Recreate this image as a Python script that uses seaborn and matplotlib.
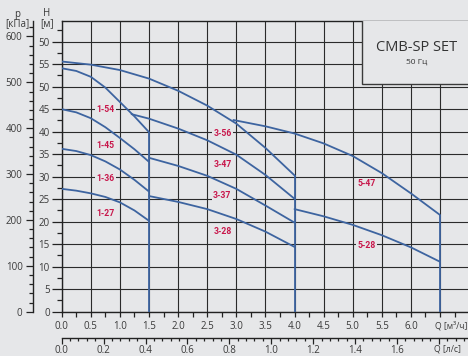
import numpy as np
import pandas as pd
import matplotlib
matplotlib.use("Agg")
import matplotlib.pyplot as plt
import matplotlib.transforms as mtransforms
from matplotlib.patches import Rectangle
from matplotlib.ticker import MultipleLocator, FixedLocator, FixedFormatter
import seaborn as sns

# ---------------- data (Q in m3/h, H in m) ----------------
q_1_54 = [0.0, 0.25, 0.5, 0.75, 1.0, 1.25, 1.5]
h_1_54 = [54.1, 53.5, 52.2, 49.8, 46.6, 43.4, 39.9]
q_1_45 = [0.0, 0.25, 0.5, 0.75, 1.0, 1.25, 1.5]
h_1_45 = [45.0, 44.3, 43.0, 41.0, 38.6, 36.1, 33.3]
q_1_36 = [0.0, 0.25, 0.5, 0.75, 1.0, 1.25, 1.5]
h_1_36 = [36.2, 35.7, 34.8, 33.4, 31.6, 29.3, 26.7]
q_1_27 = [0.0, 0.25, 0.5, 0.75, 1.0, 1.25, 1.5]
h_1_27 = [27.3, 26.9, 26.3, 25.5, 24.3, 22.5, 20.2]

q_3_56 = [0.0, 0.5, 1.0, 1.5, 2.0, 2.5, 3.0, 3.5, 4.0]
h_3_56 = [55.6, 54.9, 53.7, 51.8, 49.1, 45.8, 41.8, 36.4, 30.3]
q_3_47 = [1.2, 1.5, 2.0, 2.5, 3.0, 3.5, 4.0]
h_3_47 = [43.9, 42.9, 40.7, 38.1, 34.9, 30.4, 25.1]
q_3_37 = [1.5, 2.0, 2.5, 3.0, 3.5, 4.0]
h_3_37 = [34.2, 32.4, 30.2, 27.3, 23.6, 19.8]
q_3_28 = [1.5, 2.0, 2.5, 3.0, 3.5, 4.0]
h_3_28 = [25.7, 24.4, 22.8, 20.6, 17.8, 14.4]

q_5_47 = [2.95, 3.5, 4.0, 4.5, 5.0, 5.5, 6.0, 6.5]
h_5_47 = [42.6, 41.2, 39.6, 37.4, 34.6, 30.8, 26.3, 21.5]
q_5_28 = [4.0, 4.5, 5.0, 5.5, 6.0, 6.5]
h_5_28 = [22.8, 21.2, 19.3, 17.0, 14.3, 11.1]

pump_names = ["1-54", "1-45", "1-36", "1-27", "3-56", "3-47", "3-37", "3-28", "5-47", "5-28"]
pump_q = [q_1_54, q_1_45, q_1_36, q_1_27, q_3_56, q_3_47, q_3_37, q_3_28, q_5_47, q_5_28]
pump_h = [h_1_54, h_1_45, h_1_36, h_1_27, h_3_56, h_3_47, h_3_37, h_3_28, h_5_47, h_5_28]

label_q = [0.75, 0.75, 0.75, 0.75, 2.76, 2.76, 2.76, 2.76, 5.24, 5.24]
label_h = [44.9, 37.0, 29.6, 21.9, 39.7, 32.6, 25.9, 17.8, 28.4, 14.6]

q_ticks = [0.0, 0.5, 1.0, 1.5, 2.0, 2.5, 3.0, 3.5, 4.0, 4.5, 5.0, 5.5, 6.0, 6.5]
q_tick_labels = ["0.0", "0.5", "1.0", "1.5", "2.0", "2.5", "3.0", "3.5", "4.0",
                 "4.5", "5.0", "5.5", "6.0", "Q [м³/ч]"]
ls_ticks = [0.0, 0.2, 0.4, 0.6, 0.8, 1.0, 1.2, 1.4, 1.6, 1.8]
ls_tick_labels = ["0.0", "0.2", "0.4", "0.6", "0.8", "1.0", "1.2", "1.4", "1.6", "Q [л/с]"]
h_ticks = [0, 5, 10, 15, 20, 25, 30, 35, 40, 45, 50, 55, 60]
h_tick_labels = ["0", "5", "10", "15", "20", "25", "30", "35", "40", "45", "50", "55", "50"]
p_ticks = [0, 100, 200, 300, 400, 500, 600]

title_main = "CMB-SP SET"
title_sub = "50 Гц"

# ---------------- style ----------------
BG = "#e6e7e9"
CURVE = "#3d64a0"
LABEL = "#c8174b"
GRID = "#2b2b2b"
TXT = "#3a3a3a"

sns.set_style("white")
plt.rcParams["font.family"] = ["Open Sans", "DejaVu Sans"]

W, Hpx = 468, 356
fig = plt.figure(figsize=(W / 100, Hpx / 100), dpi=100, facecolor=BG)

x0, y0 = 61.7, 311.7          # pixel position of (0,0)
px_per_q, px_per_h = 58.2, 4.5
xmax = (W - x0) / px_per_q
ymax = (y0 - 20.7) / px_per_h

ax = fig.add_axes([x0 / W, 1 - y0 / Hpx, 1 - x0 / W, (y0 - 20.7) / Hpx])
ax.set_facecolor(BG)

rows = []
for name, qs, hs in zip(pump_names, pump_q, pump_h):
    for q, h in zip(qs, hs):
        rows.append({"pump": name, "Q": q, "H": h})
df = pd.DataFrame(rows)

sns.lineplot(data=df, x="Q", y="H", units="pump", estimator=None, sort=False,
             color=CURVE, lw=1.3, ax=ax, zorder=3, legend=False)

# vertical limit lines: at the max flow of each pump family, up to the highest end head
families = {}
for name, qs, hs in zip(pump_names, pump_q, pump_h):
    fam = name.split("-")[0]
    qe, he = qs[-1], hs[-1]
    if fam not in families:
        families[fam] = [qe, he]
    else:
        families[fam][1] = max(families[fam][1], he)
for fam, (qe, he) in families.items():
    ax.vlines(qe, 0, he, color=CURVE, lw=1.3, zorder=3)

for name, lq, lh in zip(pump_names, label_q, label_h):
    ax.text(lq, lh, name, color=LABEL, fontsize=6.2, fontweight="bold",
            ha="center", va="center", zorder=4, family=["Roboto", "DejaVu Sans"],
            bbox=dict(facecolor=BG, edgecolor="none", pad=1.2))

ax.set_xlim(0, xmax)
ax.set_ylim(0, ymax)
ax.set_xlabel("")
ax.set_ylabel("")

ax.xaxis.set_major_locator(FixedLocator(q_ticks))
ax.xaxis.set_major_formatter(FixedFormatter(q_tick_labels))
ax.xaxis.set_minor_locator(MultipleLocator(0.25))
ax.yaxis.set_major_locator(FixedLocator(h_ticks))
ax.yaxis.set_major_formatter(FixedFormatter(h_tick_labels))
ax.yaxis.set_minor_locator(MultipleLocator(2.5))
ax.set_axisbelow(True)
ax.grid(which="major", color=GRID, lw=0.8)

for s in ["left", "bottom", "top"]:
    ax.spines[s].set_color("#222222")
    ax.spines[s].set_linewidth(1.0)
ax.spines["right"].set_visible(False)

ax.tick_params(axis="y", which="major", direction="out", length=7, width=0.9,
               color="#222222", labelsize=7, labelcolor=TXT, pad=1.5)
ax.tick_params(axis="y", which="minor", direction="out", length=3.5, width=0.9, color="#222222")
ax.tick_params(axis="x", which="major", direction="out", length=3.5, width=0.9,
               color="#222222", labelsize=7, labelcolor=TXT, pad=3.5)
ax.tick_params(axis="x", which="minor", direction="out", length=3.5, width=0.9, color="#222222")

offset_left = mtransforms.ScaledTranslation(-5 / 100, 0, fig.dpi_scale_trans)
lbls = ax.get_xticklabels()
lbls[-1].set_horizontalalignment("left")
lbls[-1].set_fontsize(6.2)
lbls[-1].set_transform(lbls[-1].get_transform() + offset_left)

# pressure axis (kPa)
ax_p = ax.twinx()
ax_p.set_ylim(0, ymax * 9.81)
ax_p.yaxis.set_ticks_position("left")
ax_p.yaxis.set_label_position("left")
ax_p.spines["left"].set_position(("axes", (33 - x0) / (W - x0)))
ax_p.spines["left"].set_color("#222222")
ax_p.spines["left"].set_linewidth(1.0)
for s in ["right", "top", "bottom"]:
    ax_p.spines[s].set_visible(False)
ax_p.yaxis.set_major_locator(FixedLocator(p_ticks))
ax_p.yaxis.set_minor_locator(MultipleLocator(20))
ax_p.tick_params(axis="y", which="major", direction="out", length=5, width=0.9,
                 color="#222222", labelsize=7, labelcolor=TXT, pad=2.5)
ax_p.tick_params(axis="y", which="minor", direction="out", length=3, width=0.9, color="#222222")

# flow axis (l/s)
ax_ls = ax.twiny()
ax_ls.set_xlim(0, xmax / 3.6)
ax_ls.xaxis.set_ticks_position("bottom")
ax_ls.xaxis.set_label_position("bottom")
ax_ls.spines["bottom"].set_position(("outward", 18.8))
ax_ls.spines["bottom"].set_color("#222222")
ax_ls.spines["bottom"].set_linewidth(1.0)
for s in ["left", "right", "top"]:
    ax_ls.spines[s].set_visible(False)
ax_ls.xaxis.set_major_locator(FixedLocator(ls_ticks))
ax_ls.xaxis.set_major_formatter(FixedFormatter(ls_tick_labels))
ax_ls.xaxis.set_minor_locator(MultipleLocator(0.04))
ax_ls.tick_params(axis="x", which="major", direction="out", length=4, width=0.9,
                  color="#222222", labelsize=7, labelcolor=TXT, pad=1.0)
ax_ls.tick_params(axis="x", which="minor", direction="out", length=2.2, width=0.9, color="#222222")
lbls2 = ax_ls.get_xticklabels()
lbls2[-1].set_horizontalalignment("left")
lbls2[-1].set_fontsize(6.2)
lbls2[-1].set_transform(lbls2[-1].get_transform() + offset_left)

# axis titles
fig.text(17 / W, 1 - 14 / Hpx, "p", fontsize=7, color=TXT, ha="center", va="center")
fig.text(17 / W, 1 - 24 / Hpx, "[кПа]", fontsize=7, color=TXT, ha="center", va="center")
fig.text(47 / W, 1 - 14 / Hpx, "H", fontsize=7, color=TXT, ha="center", va="center")
fig.text(47 / W, 1 - 24 / Hpx, "[м]", fontsize=7, color=TXT, ha="center", va="center")

# title box
box_q = (362.3 - x0) / px_per_q
box_h = (y0 - 84) / px_per_h
ax.add_patch(Rectangle((box_q, box_h), 5, 30, facecolor=BG, edgecolor="#3a3a3a",
                       lw=1.0, zorder=5, clip_on=True))
ax.text((416.3 - x0) / px_per_q, (y0 - 47.3) / px_per_h, title_main, fontsize=10.5,
        color="#333333", ha="center", va="center", zorder=6)
ax.text((416.3 - x0) / px_per_q, (y0 - 62.3) / px_per_h, title_sub, fontsize=6,
        color="#333333", ha="center", va="center", zorder=6)

fig.savefig("out.png", dpi=100, facecolor=BG)
